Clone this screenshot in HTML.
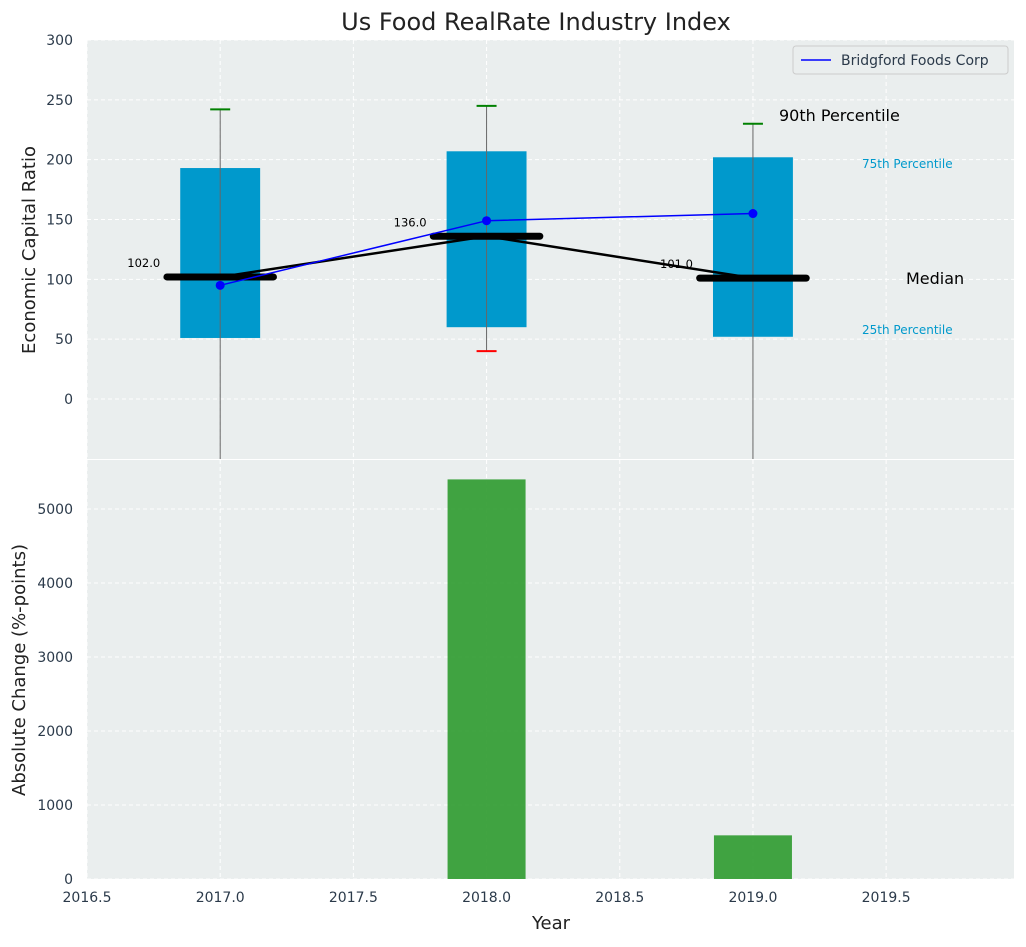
<!DOCTYPE html>
<html><head><meta charset="utf-8"><style>
body{margin:0;background:#fff;font-family:"Liberation Sans","DejaVu Sans",sans-serif}
text{font-family:"DejaVu Sans","Liberation Sans",sans-serif}
</style></head><body>
<svg id="c" width="1026" height="942" xmlns="http://www.w3.org/2000/svg"></svg>
<script>
const years=[2017,2018,2019];
const q25=[51,60,52];
const q75=[193,207,202];
const p90=[242,245,230];
const p10=[-60,40,-60];
const medians=[102,136,101];
const company=[95,149,155];
const changes=[0,5400,590];
const xTicks=[2016.5,2017,2017.5,2018,2018.5,2019,2019.5];
const yTopTicks=[0,50,100,150,200,250,300];
const yBotTicks=[0,1000,2000,3000,4000,5000];

const svg=document.getElementById('c');
const NS='http://www.w3.org/2000/svg';
function el(t,a,txt){const e=document.createElementNS(NS,t);for(const k in a)e.setAttribute(k,a[k]);if(txt!==undefined)e.textContent=txt;svg.appendChild(e);return e;}
const X0=87,X1=1014;
const x=v=>X0+(v-2016.5)/(2019.98-2016.5)*(X1-X0);
const T0=40,T1=459;
const yt=v=>399-v*(359/300);
const B0=460,B1=879;
const yb=v=>879-v*0.074;

let e;
e=el('rect',{x:X0,y:T0,width:X1-X0,height:T1-T0,fill:'#eaeeee'});

e=el('rect',{x:X0,y:B0,width:X1-X0,height:B1-B0,fill:'#eaeeee'});

xTicks.forEach(v=>{
 el('line',{x1:x(v),x2:x(v),y1:T0,y2:T1,stroke:'#fff','stroke-dasharray':'4,3','stroke-width':1});
 el('line',{x1:x(v),x2:x(v),y1:B0,y2:B1,stroke:'#fff','stroke-dasharray':'4,3','stroke-width':1});
 e=el('text',{x:x(v),y:902,'text-anchor':'middle','font-size':14,fill:'#2b3a4a'},v.toFixed(1));
 
});
yTopTicks.forEach(v=>{
 el('line',{x1:X0,x2:X1,y1:yt(v),y2:yt(v),stroke:'#fff','stroke-dasharray':'4,3','stroke-width':1});
 e=el('text',{x:73,y:yt(v)+5,'text-anchor':'end','font-size':14,fill:'#2b3a4a'},v);
 
});
yBotTicks.forEach(v=>{
 el('line',{x1:X0,x2:X1,y1:yb(v),y2:yb(v),stroke:'#fff','stroke-dasharray':'4,3','stroke-width':1});
 e=el('text',{x:73,y:yb(v)+5,'text-anchor':'end','font-size':14,fill:'#2b3a4a'},v);
 
});
const clampT=v=>Math.min(T1,Math.max(T0,yt(v)));
const bw=0.3*(x(2018)-x(2017)), mw=0.4*(x(2018)-x(2017));
years.forEach((yr,i)=>{
 const cx=x(yr);
 e=el('rect',{x:cx-bw/2,y:yt(q75[i]),width:bw,height:yt(q25[i])-yt(q75[i]),fill:'#0099cc'});
 
 e=el('line',{x1:cx,x2:cx,y1:clampT(p90[i]),y2:clampT(p10[i]),stroke:'#666','stroke-width':1});
 
 e=el('line',{x1:cx-10,x2:cx+10,y1:yt(p90[i]),y2:yt(p90[i]),stroke:'green','stroke-width':2});
 
 if(p10[i]>=-50){e=el('line',{x1:cx-10,x2:cx+10,y1:yt(p10[i]),y2:yt(p10[i]),stroke:'red','stroke-width':2});
 }
});
e=el('polyline',{points:years.map((yr,i)=>x(yr)+','+yt(medians[i])).join(' '),fill:'none',stroke:'#000','stroke-width':2.5});

years.forEach((yr,i)=>{
 const cx=x(yr);
 e=el('line',{x1:cx-mw/2,x2:cx+mw/2,y1:yt(medians[i]),y2:yt(medians[i]),stroke:'#000','stroke-width':7,'stroke-linecap':'round'});
 
 e=el('text',{x:cx-60,y:yt(medians[i])-10,'text-anchor':'end','font-size':11.5,fill:'#000'},medians[i].toFixed(1));
 
});
e=el('polyline',{points:years.map((yr,i)=>x(yr)+','+yt(company[i])).join(' '),fill:'none',stroke:'blue','stroke-width':1.5});

years.forEach((yr,i)=>{e=el('circle',{cx:x(yr),cy:yt(company[i]),r:4.5,fill:'blue'});
 });
[['90th Percentile',779,121,16,'#000','p90'],['75th Percentile',862,168,12,'#0099cc','p75'],['Median',906,284,16,'#000','median'],['25th Percentile',862,334,12,'#0099cc','p25']].forEach(a=>{
 e=el('text',{x:a[1],y:a[2],'font-size':a[3],fill:a[4]},a[0]);
 });
years.forEach((yr,i)=>{const cx=x(yr);
 e=el('rect',{x:cx-39,y:yb(changes[i]),width:78,height:yb(0)-yb(changes[i]),fill:'#2e9a2e','fill-opacity':0.9});
 });
e=el('rect',{x:793,y:46,width:215,height:28,fill:'#eaeeee',stroke:'#ccc',rx:3});

el('line',{x1:801,x2:831,y1:60,y2:60,stroke:'blue','stroke-width':1.5});
e=el('text',{x:841,y:65,'font-size':14,fill:'#2b3a4a'},'Bridgford Foods Corp');

e=el('text',{x:536,y:30,'text-anchor':'middle','font-size':24,fill:'#222'},'Us Food RealRate Industry Index');

e=el('text',{x:0,y:0,'text-anchor':'middle','font-size':18,fill:'#222',transform:'translate(35,250) rotate(-90)'},'Economic Capital Ratio');

e=el('text',{x:0,y:0,'text-anchor':'middle','font-size':18,fill:'#222',transform:'translate(25,670) rotate(-90)'},'Absolute Change (%-points)');

e=el('text',{x:551,y:929,'text-anchor':'middle','font-size':18,fill:'#222'},'Year');

</script>
</body></html>
